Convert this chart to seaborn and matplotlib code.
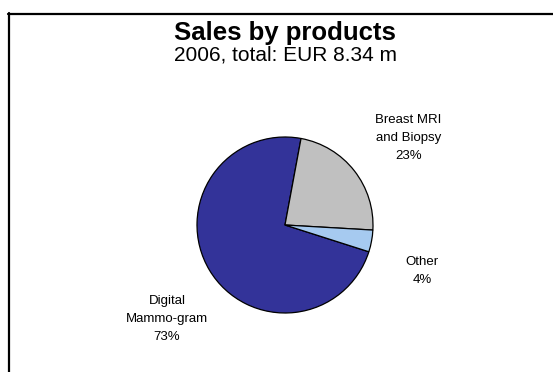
import matplotlib
matplotlib.use("Agg")
import matplotlib.pyplot as plt
from matplotlib.lines import Line2D
import seaborn as sns

# Sales shares by product line, 2006 (percent)
products = ["Digital\nMammo-gram", "Breast MRI\nand Biopsy", "Other"]
shares = [73, 23, 4]
colors = ["#333399", "#c0c0c0", "#a6caf0"]
title = "Sales by products"
subtitle = "2006, total: EUR 8.34 m"

sns.set_theme(style="white")
plt.rcParams["font.family"] = ["Liberation Sans", "DejaVu Sans"]

W, H = 553, 372
fig = plt.figure(figsize=(W / 100, H / 100), dpi=100)
fig.patch.set_facecolor("white")

# pie axes: centre (285, 225) px, radius 88 px
cx, cy, r = 285, 225, 88
ax = fig.add_axes([(cx - r) / W, (H - cy - r) / H, 2 * r / W, 2 * r / H])
wedges, _ = ax.pie(
    shares,
    colors=colors,
    startangle=-17.7,
    counterclock=False,
    radius=1.0,
    wedgeprops=dict(edgecolor="black", linewidth=0.9),
)
ax.set_xlim(-1.0, 1.0)
ax.set_ylim(-1.0, 1.0)
ax.set_aspect("equal")
ax.axis("off")

# label anchors in pie units
label_pos = [(-1.34, -1.07), (1.40, 0.99), (1.56, -0.52)]
for name, val, (lx, ly) in zip(products, shares, label_pos):
    ax.text(lx, ly, f"{name}\n{val}%", ha="center", va="center",
            fontsize=9.5, linespacing=1.65, color="black", clip_on=False)

fig.text(cx / W, 1 - 33 / H, title, ha="center", va="center",
         fontsize=18.5, fontweight="bold", color="black")
fig.text(cx / W, 1 - 55 / H, subtitle, ha="center", va="center",
         fontsize=15, color="black")

# frame lines along the top and left edges
fig.add_artist(Line2D([8 / W, 1.0], [1 - 14 / H, 1 - 14 / H],
                      transform=fig.transFigure, color="black", linewidth=1.6))
fig.add_artist(Line2D([9 / W, 9 / W], [0.0, 1 - 13 / H],
                      transform=fig.transFigure, color="black", linewidth=1.6))

fig.savefig("out.png", dpi=100, facecolor="white")
